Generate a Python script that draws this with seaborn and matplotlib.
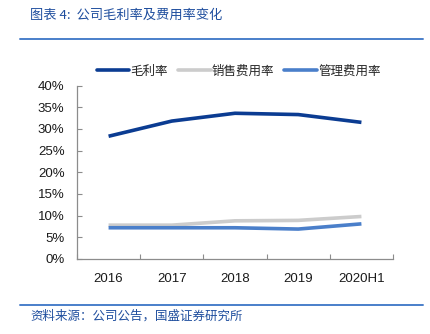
import matplotlib
matplotlib.use("Agg")
import matplotlib.pyplot as plt
import seaborn as sns
import pandas as pd
from matplotlib.lines import Line2D

# Data
years = ["2016", "2017", "2018", "2019", "2020H1"]
gross_margin = [0.283, 0.318, 0.336, 0.333, 0.315]
selling_rate = [0.078, 0.078, 0.088, 0.089, 0.098]
admin_rate = [0.072, 0.072, 0.072, 0.069, 0.081]
series_names = ["毛利率", "销售费用率", "管理费用率"]
series_colors = ["#0B3C92", "#CCCCCC", "#4A7FCA"]
y_ticks = [0, 0.05, 0.10, 0.15, 0.20, 0.25, 0.30, 0.35, 0.40]
y_tick_labels = ["0%", "5%", "10%", "15%", "20%", "25%", "30%", "35%", "40%"]

sns.set_theme(style="white")
plt.rcParams["font.family"] = ["Liberation Sans", "Noto Sans CJK SC", "DejaVu Sans"]

df = pd.DataFrame({
    "year": years * 3,
    "value": gross_margin + selling_rate + admin_rate,
    "series": [series_names[0]] * 5 + [series_names[1]] * 5 + [series_names[2]] * 5,
})
df["x"] = df["year"].map({y: i for i, y in enumerate(years)})

fig = plt.figure(figsize=(4.30, 3.34), dpi=100)
ax = fig.add_axes([0.179, 0.2246, 0.735, 0.5194])

sns.lineplot(data=df, x="x", y="value", hue="series", hue_order=series_names,
             palette=series_colors, linewidth=2.6, ax=ax, legend=False,
             sort=False, solid_capstyle="butt")

ax.set_xlim(-0.5, 4.5)
ax.set_ylim(0, 0.40)
ax.set_yticks(y_ticks)
ax.set_yticklabels(y_tick_labels)
ax.set_xticks(range(len(years)))
ax.set_xticklabels(years)
ax.set_xticks([-0.5, 0.5, 1.5, 2.5, 3.5, 4.5], minor=True)
ax.set_xlabel("")
ax.set_ylabel("")

for side in ["top", "right"]:
    ax.spines[side].set_visible(False)
for side in ["left", "bottom"]:
    ax.spines[side].set_color("#8C8C8C")
    ax.spines[side].set_linewidth(0.9)

ax.tick_params(axis="y", which="major", direction="in", length=3.5, width=0.8,
               color="#8C8C8C", labelsize=9.5, labelcolor="#1A1A1A", pad=9, left=True)
ax.tick_params(axis="x", which="major", length=0, labelsize=9.5,
               labelcolor="#1A1A1A", pad=10)
ax.tick_params(axis="x", which="minor", direction="in", length=3.5, width=0.8,
               color="#8C8C8C", bottom=True)

handles = [Line2D([0], [0], color=c, lw=2.6) for c in series_colors]
fig.legend(handles, series_names, loc="center", bbox_to_anchor=(0.555, 0.787),
           ncol=3, frameon=False, handlelength=2.6, handletextpad=0.1,
           columnspacing=0.8, labelcolor="#262626",
           prop={"family": "Noto Sans CJK SC", "size": 9})

# Header and footer
fig.text(0.07, 0.955, "图表 4:  公司毛利率及费用率变化", color="#1F4E9E",
         fontsize=9.5, family=["Noto Sans CJK SC", "DejaVu Sans"], va="center",
         style="italic")
fig.add_artist(Line2D([0.047, 0.983], [0.883, 0.883], color="#4A7FCA", lw=1.4))
fig.add_artist(Line2D([0.047, 0.983], [0.086, 0.086], color="#4A7FCA", lw=1.4))
fig.text(0.07, 0.052, "资料来源：公司公告，国盛证券研究所", color="#1F4E9E",
         fontsize=9, family=["Noto Sans CJK SC", "DejaVu Sans"], va="center",
         style="italic")

fig.savefig("out.png", dpi=100, facecolor="white")
